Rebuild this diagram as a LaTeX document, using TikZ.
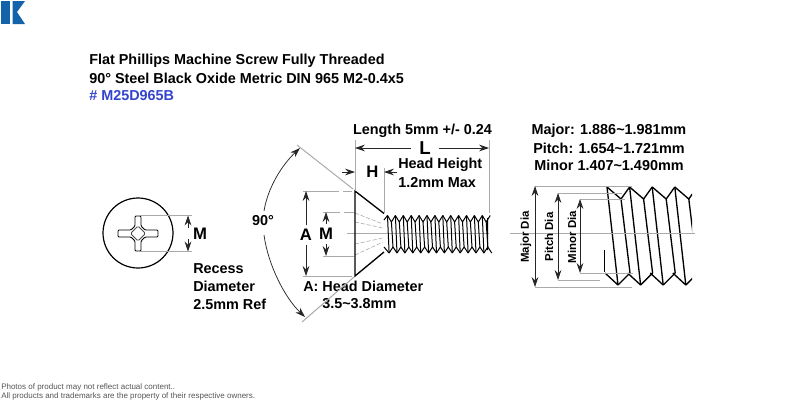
\documentclass[tikz,border=0pt]{standalone}
\usepackage{fontspec}
\setmainfont{Liberation Sans}
\usetikzlibrary{calc,arrows.meta,positioning}
\definecolor{partblue}{RGB}{51,68,204}
\definecolor{logoblue}{RGB}{18,99,170}
\definecolor{extgray}{RGB}{170,170,170}
\definecolor{notegray}{RGB}{85,85,85}
\tikzset{
  ttl/.style={anchor=west, inner sep=0pt, font=\bfseries\fontsize{10.8}{12}\selectfont},
  lbl/.style={inner sep=0pt, font=\bfseries\fontsize{10.8}{12}\selectfont},
  biglbl/.style={inner sep=2pt, font=\bfseries\fontsize{12.5}{14}\selectfont},
  dialbl/.style={inner sep=0pt, rotate=90, font=\bfseries\fontsize{8.6}{10}\selectfont},
  note/.style={anchor=west, inner sep=0pt, text=notegray, font=\fontsize{6}{7}\selectfont},
  ext/.style={draw=extgray, line width=0.75pt},
  dimline/.style={draw=black!85, line width=0.55pt, -{Stealth[length=7.5pt,width=5pt]}},
  twoway/.style={draw=black!85, line width=0.55pt, {Stealth[length=7.5pt,width=5pt]}-{Stealth[length=7.5pt,width=5pt]}},
  thr/.style={draw=black, line width=0.75pt, line join=round},
  bigthr/.style={draw=black, line width=1pt, line join=round},
  rcs/.style={draw=extgray, line width=0.45pt, dash pattern=on 3pt off 1.5pt},
}
\begin{document}
\begin{tikzpicture}[x=0.75pt,y=-0.75pt]
  \useasboundingbox (0,0) rectangle (800,400);

  %% --- logo ---
  \fill[logoblue] (1,1) rectangle (10,24);
  \fill[logoblue] (12.5,1) -- (25,1) -- (17,12) -- (25,24) -- (12.5,24) -- cycle;

  %% --- title ---
  \node[ttl] (title1) at (89,61) {Flat Phillips Machine Screw Fully Threaded};
  \node[ttl] (title2) at (89,78.5) {90° Steel Black Oxide Metric DIN 965 M2-0.4x5};
  \node[ttl, text=partblue] (title3) at (89,96) {\# M25D965B};

  %% --- head seen from above ---
  \draw[line width=0.9pt] (138,233) circle (35);
  \draw[line width=0.65pt, fill=white, rounded corners=0.8pt]
    (135,216) -- (141,216) -- (141,226) -- (145,230) -- (158,230) -- (158,237) -- (145,237)
    -- (141,241) -- (141,251) -- (135,251) -- (135,241) -- (131,237) -- (118,237) -- (118,230)
    -- (131,230) -- (135,226) -- cycle;
  \draw[line width=0.55pt, black!70, rounded corners=1pt] (130.5,233.5) -- (138,226) -- (145.5,233.5) -- (138,241) -- cycle;
  \coordinate (rtop) at (138,215.5);
  \coordinate (rbot) at (138,251.5);
  \coordinate (rtopend) at (192,215.5);
  \coordinate (rbotend) at (192,251.5);
  \draw[ext] (rtop) -- (rtopend);
  \draw[ext] (rbot) -- (rbotend);
  \coordinate (rarr) at (188,215.5);
  \coordinate (rarb) at (188,251.5);
  \coordinate (rmid1) at (188,228);
  \coordinate (rmid2) at (188,239);
  \draw[dimline] (rmid1) -- (rarr);
  \draw[dimline] (rmid2) -- (rarb);
  \node[biglbl, inner sep=0pt] (recessm) at (200,233.5) {M};
  \node[ttl] (recess1) at (193,269) {Recess};
  \node[ttl] (recess2) at (193,286.5) {Diameter};
  \node[ttl] (recess3) at (193,304) {2.5mm Ref};

  %% --- screw, recess first ---
  \foreach \yy/\ye in {213/224,222/228,244/238,255/242}
    \draw[rcs] (355,\yy) -- (383,\ye);
  \draw[ext] (347,233.5) -- (489,233.5);

  % Threads
  \foreach \i in {0,...,12} {
    \pgfmathsetmacro{\xa}{387.5+7.9*\i}
    \pgfmathsetmacro{\xb}{\xa+3.9}
    \pgfmathsetmacro{\xc}{\xa+7.9}
    \pgfmathsetmacro{\xd}{\xa+1.6}
    \pgfmathsetmacro{\xe}{\xa+5.5}
    \draw[thr] (\xa,215.5) -- (\xb,222) -- (\xc,215.5);
    \draw[thr] (\xd,253) -- (\xe,247) -- (\xd+7.9,253);
    \draw[thr] (\xa,215.5) -- (\xd,253);
    \draw[thr] (\xb,222) -- (\xe,247);
  }
  \draw[thr] (384,220) -- (387.5,215.5) (384,247) -- (389,253) (487.5,218) -- (487.5,250);

  % Head
  \coordinate (htop) at (355,191);
  \coordinate (hbot) at (355,276);
  \coordinate (hrt) at (384,213.5);
  \coordinate (hrb) at (384,252);
  \draw[line width=1pt] (hrt) -- (htop) -- (hbot) -- (hrb);

  %% --- length and head height ---
  \coordinate (lleft) at (355,140);
  \coordinate (lright) at (489,140);
  \coordinate (lrightend) at (489,213);
  \coordinate (hright) at (384,168);
  \coordinate (hrightend) at (384,213);
  \draw[ext] (lleft) -- (htop);
  \draw[ext] (lright) -- (lrightend);
  \draw[ext] (hright) -- (hrightend);
  \node[lbl] (lengthlbl) at (422.5,130.5) {Length 5mm +/- 0.24};
  \node[biglbl, font=\bfseries\fontsize{14}{16}\selectfont, inner xsep=6pt] (llbl) at (425,148) {L};
  \coordinate (larr1) at (355,148);
  \coordinate (larr2) at (489,148);
  \draw[dimline] (llbl) -- (larr1);
  \draw[dimline] (llbl) -- (larr2);
  \node[biglbl, inner sep=0pt] (hlbl) at (372.5,172) {H};
  \coordinate (harr1s) at (342,172);
  \coordinate (harr1) at (355,172);
  \coordinate (harr2s) at (397,172);
  \coordinate (harr2) at (384,172);
  \draw[dimline] (harr1s) -- (harr1);
  \draw[dimline] (harr2s) -- (harr2);
  \node[ttl] (hh1) at (398,165) {Head Height};
  \node[ttl] (hh2) at (398,183) {1.2mm Max};

  %% --- head diameter and M ---
  \coordinate (atop) at (303,191);
  \coordinate (abot) at (303,276);
  \coordinate (atopend) at (352,191);
  \coordinate (abotend) at (352,276);
  \draw[ext, dash pattern=on 27pt off 3pt] (atop) -- (atopend);
  \draw[ext] (abot) -- (abotend);
  \node[biglbl, inner sep=3pt] (albl) at (306,234.5) {A};
  \coordinate (aarr1) at (306,191);
  \coordinate (aarr2) at (306,276);
  \draw[dimline] (albl) -- (aarr1);
  \draw[dimline] (albl) -- (aarr2);
  \coordinate (mtop) at (323,212);
  \coordinate (mbot) at (323,256);
  \coordinate (mtopend) at (354,212);
  \coordinate (mbotend) at (354,256);
  \draw[ext, dash pattern=on 13pt off 3pt] (mtop) -- (mtopend);
  \draw[ext] (mbot) -- (mbotend);
  \node[biglbl, inner sep=3pt] (mlbl) at (326,234) {M};
  \coordinate (marr1) at (326,212);
  \coordinate (marr2) at (326,256);
  \draw[dimline] (mlbl) -- (marr1);
  \draw[dimline] (mlbl) -- (marr2);
  \node[ttl] (adia1) at (303,286) {A: Head Diameter};
  \node[ttl] (adia2) at (322,303.5) {3.5\textasciitilde 3.8mm};

  %% --- 90 degrees ---
  \coordinate (up1) at (297,145);
  \coordinate (up2) at (353,189);
  \coordinate (lo1) at (302,322);
  \coordinate (lo2) at (354,277);
  \draw[ext] (up1) -- (up2);
  \draw[ext] (lo1) -- (lo2);
  \node[lbl] (anglelbl) at (263,221) {90°};
  \coordinate (arcup) at (300,148);
  \coordinate (arclo) at (305,317);
  \draw[dimline] (264,211) .. controls (268,187) and (282,165) .. (arcup);
  \draw[dimline] (264,235) .. controls (268,265) and (285,298) .. (arclo);

  %% --- thread detail ---
  \node[lbl] (major) at (609,131) {Major: 1.886\textasciitilde 1.981mm};
  \node[lbl] (pitch) at (609,148) {Pitch: 1.654\textasciitilde 1.721mm};
  \node[lbl] (minor) at (609,165.5) {Minor 1.407\textasciitilde 1.490mm};

  \begin{scope}
    \clip (604,180) rectangle (692,295);
    \foreach \i in {0,...,4} {
      \pgfmathsetmacro{\xa}{607+22.6*\i}
      \pgfmathsetmacro{\xb}{\xa+14}
      \pgfmathsetmacro{\xc}{\xa+22.6}
      \pgfmathsetmacro{\xd}{\xa+11}
      \pgfmathsetmacro{\xe}{\xa+23}
      \draw[bigthr] (\xa,187) -- (\xb,199) -- (\xc,187);
      \draw[bigthr] (\xd-13,273) -- (\xd,285) -- (\xe,273);
      \draw[bigthr] (\xa,187) -- (\xd,285);
      \draw[bigthr] (\xb,199) -- (\xe,273);
    }
  \end{scope}
  \draw[thr] (604.5,250) -- (604.5,272);
  \draw[ext] (510,233.5) -- (695,233.5);

  \coordinate (majt) at (535,186);
  \coordinate (majte) at (632,186);
  \coordinate (majb) at (535,287);
  \coordinate (majbe) at (632,287);
  \coordinate (pitt) at (558,193);
  \coordinate (pitte) at (622,193);
  \coordinate (pitb) at (558,280);
  \coordinate (pitbe) at (600,280);
  \coordinate (mint) at (580,199);
  \coordinate (minte) at (625,199);
  \coordinate (minb) at (580,273);
  \coordinate (minbe) at (633,273);
  \foreach \a/\b in {majt/majte,majb/majbe,pitt/pitte,pitb/pitbe,mint/minte,minb/minbe}
    \draw[ext] (\a) -- (\b);
  \draw[twoway] (majt) -- (majb);
  \draw[twoway] (pitt) -- (pitb);
  \draw[twoway] (mint) -- (minb);
  \node[dialbl] (majorlbl) at (526,237) {Major Dia};
  \node[dialbl] (pitchlbl) at (549,237) {Pitch Dia};
  \node[dialbl] (minorlbl) at (572,237) {Minor Dia};

  %% --- footer ---
  \node[note] (foot1) at (1,387) {Photos of product may not reflect actual content..};
  \node[note] (foot2) at (1,396) {All products and trademarks are the property of their respective owners.};
\end{tikzpicture}
\end{document}
